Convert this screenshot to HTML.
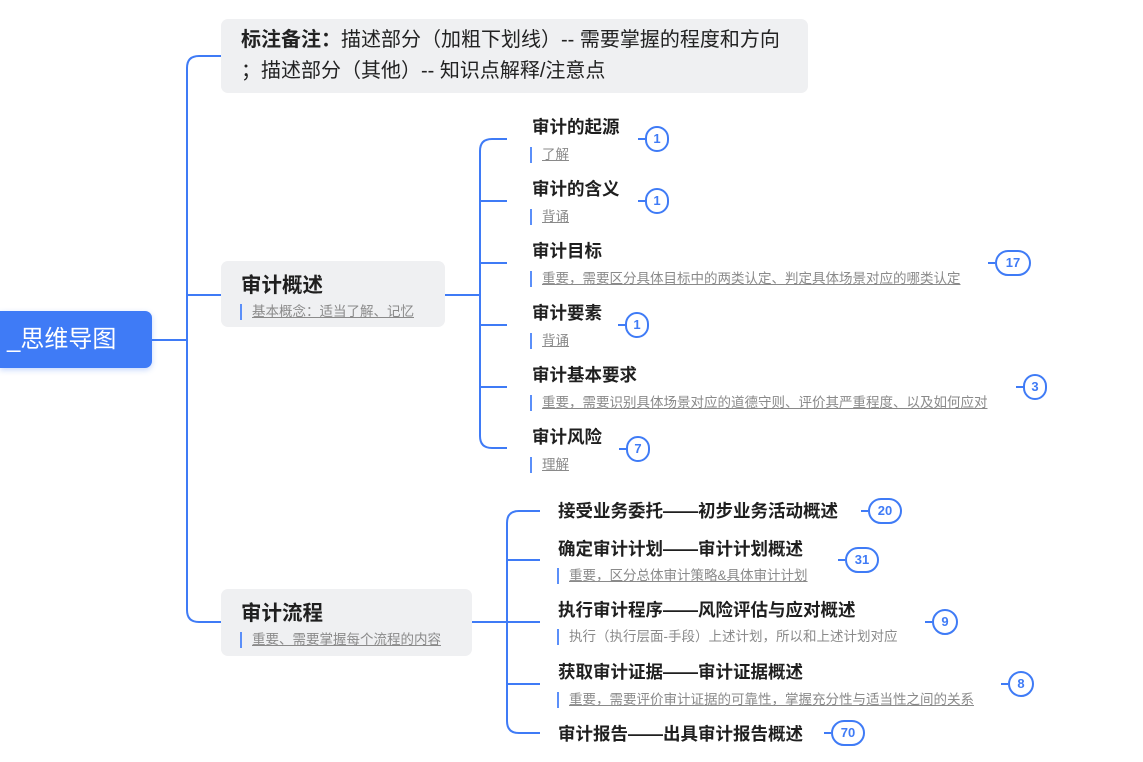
<!DOCTYPE html>
<html><head><meta charset="utf-8"><style>
body{margin:0;width:1143px;height:762px;background:#fff;position:relative;overflow:hidden;font-family:"Liberation Sans","Noto Sans CJK SC",sans-serif;}
.a{position:absolute;white-space:nowrap;}
.box{position:absolute;background:#eff0f2;border-radius:7px;}
.t{position:absolute;white-space:nowrap;font-weight:bold;font-size:17.5px;color:#1f1f1f;}
.s{position:absolute;white-space:nowrap;font-size:13.5px;color:#8a8a8a;text-decoration:underline;padding-left:10px;border-left:2px solid #5b8ff9;line-height:16px;}
.b{position:absolute;height:22px;border:2px solid #3f7bf6;border-radius:13px;background:#fff;color:#3f7bf6;font-size:13px;font-weight:bold;text-align:center;line-height:22px;box-sizing:content-box;}
</style></head><body>
<svg class="a" style="left:0;top:0" width="1143" height="762">
<g fill="none" stroke="#3f7bf6" stroke-width="2">
<path d="M152 340 H187"/>
<path d="M221 56 H199 Q187 56 187 68 V610 Q187 622 199 622 H221"/>
<path d="M187 295 H221"/>
<path d="M445 295 H480"/>
<path d="M507 139 H492 Q480 139 480 151 V436 Q480 448 492 448 H507"/>
<path d="M480 201 H507 M480 263 H507 M480 325 H507 M480 387 H507"/>
<path d="M472 622 H540"/>
<path d="M540 511 H519 Q507 511 507 523 V721 Q507 733 519 733 H540"/>
<path d="M507 560 H540 M507 684 H540"/>
<path d="M638 139 H645 M638 201 H645 M988 263 H995 M618 325 H625 M1016 387 H1023 M619 449 H626 M861 511 H868 M838 560 H845 M925 622 H932 M1001 684 H1008 M824 733 H831"/>
</g></svg>
<div class="a" style="left:0;top:311px;width:152px;height:57px;background:#3f7bf6;border-radius:0 7px 7px 0;color:#fff;font-size:24px;line-height:57px;padding-left:7px;box-sizing:border-box;box-shadow:0 2px 6px rgba(63,123,246,.3)">_思维导图</div>
<div class="box" style="left:221px;top:19px;width:587px;height:74px"></div>
<div class="a" style="left:241px;top:25px;font-size:20px;color:#222;line-height:31px"><b>标注备注：</b>描述部分（加粗下划线）-- 需要掌握的程度和方向<br>；描述部分（其他）-- 知识点解释/注意点</div>
<div class="box" style="left:221px;top:261px;width:224px;height:66px"></div>
<div class="t" style="left:241px;top:268px;font-size:20.5px">审计概述</div>
<div class="s" style="left:240px;top:304px">基本概念：适当了解、记忆</div>
<div class="box" style="left:221px;top:589px;width:251px;height:67px"></div>
<div class="t" style="left:241px;top:596px;font-size:20.5px">审计流程</div>
<div class="s" style="left:240px;top:632px">重要、需要掌握每个流程的内容</div>

<div class="t" style="left:532px;top:114px">审计的起源</div><div class="s" style="left:530px;top:147px">了解</div>
<div class="t" style="left:532px;top:176px">审计的含义</div><div class="s" style="left:530px;top:209px">背诵</div>
<div class="t" style="left:532px;top:238px">审计目标</div><div class="s" style="left:530px;top:271px">重要，需要区分具体目标中的两类认定、判定具体场景对应的哪类认定</div>
<div class="t" style="left:532px;top:300px">审计要素</div><div class="s" style="left:530px;top:333px">背诵</div>
<div class="t" style="left:532px;top:362px">审计基本要求</div><div class="s" style="left:530px;top:395px">重要，需要识别具体场景对应的道德守则、评价其严重程度、以及如何应对</div>
<div class="t" style="left:532px;top:424px">审计风险</div><div class="s" style="left:530px;top:457px">理解</div>

<div class="t" style="left:558px;top:498px">接受业务委托——初步业务活动概述</div>
<div class="t" style="left:558px;top:536px">确定审计计划——审计计划概述</div><div class="s" style="left:557px;top:568px">重要，区分总体审计策略&amp;具体审计计划</div>
<div class="t" style="left:558px;top:597px">执行审计程序——风险评估与应对概述</div><div class="s" style="left:557px;top:629px;text-decoration:none">执行（执行层面-手段）上述计划，所以和上述计划对应</div>
<div class="t" style="left:558px;top:659px">获取审计证据——审计证据概述</div><div class="s" style="left:557px;top:692px">重要，需要评价审计证据的可靠性，掌握充分性与适当性之间的关系</div>
<div class="t" style="left:558px;top:721px">审计报告——出具审计报告概述</div>

<div class="b" style="left:645px;top:126px;width:20px">1</div>
<div class="b" style="left:645px;top:188px;width:20px">1</div>
<div class="b" style="left:995px;top:250px;width:32px">17</div>
<div class="b" style="left:625px;top:312px;width:20px">1</div>
<div class="b" style="left:1023px;top:374px;width:20px">3</div>
<div class="b" style="left:626px;top:436px;width:20px">7</div>
<div class="b" style="left:868px;top:498px;width:30px">20</div>
<div class="b" style="left:845px;top:547px;width:30px">31</div>
<div class="b" style="left:932px;top:609px;width:22px">9</div>
<div class="b" style="left:1008px;top:671px;width:22px">8</div>
<div class="b" style="left:831px;top:720px;width:30px">70</div>
</body></html>
